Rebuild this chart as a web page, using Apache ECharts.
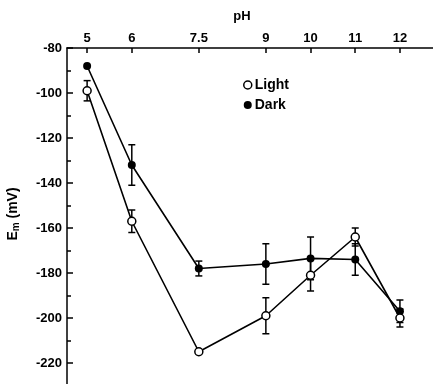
<!DOCTYPE html>
<html>
<head>
<meta charset="utf-8">
<script src="https://cdn.jsdelivr.net/npm/echarts@6/dist/echarts.min.js"></script>
<style>
  html, body { margin: 0; padding: 0; background: #fff; }
  #chart { width: 433px; height: 384px; }
</style>
</head>
<body>
<div id="chart"></div>
<script>
// pH values of the measurements and the tick labels on the top axis
const phValues = [5, 6, 7.5, 9, 10, 11, 12];
const phTicks = [5, 6, 7.5, 9, 10, 11, 12];

// Midpoint potential (mV) and its error half-width, light and dark conditions
const lightEm = [-99, -157, -215, -199, -181, -164, -200];
const lightErr = [4.5, 5, 0, 8, 7, 4, 4];
const darkEm = [-88, -132, -178, -176, -173.5, -174, -197];
const darkErr = [0, 9, 3.3, 9, 9.5, 7, 5];

// Labelled y ticks
const emTicks = [-80, -100, -120, -140, -160, -180, -200, -220];

const FONT = '"Liberation Sans", Arial, sans-serif';

const toPoints = (ys) => phValues.map((x, i) => [x, ys[i]]);
const toBars = (ys, errs) => phValues
  .map((x, i) => [x, ys[i] - errs[i], ys[i] + errs[i]])
  .filter((d, i) => errs[i] > 0);

function renderErrorBar(params, api) {
  const x = api.value(0);
  const lo = api.coord([x, api.value(1)]);
  const hi = api.coord([x, api.value(2)]);
  const cap = 3.5;
  const style = { stroke: '#000', lineWidth: 1.5 };
  return {
    type: 'group',
    children: [
      { type: 'line', shape: { x1: hi[0], y1: hi[1], x2: lo[0], y2: lo[1] }, style },
      { type: 'line', shape: { x1: hi[0] - cap, y1: hi[1], x2: hi[0] + cap, y2: hi[1] }, style },
      { type: 'line', shape: { x1: lo[0] - cap, y1: lo[1], x2: lo[0] + cap, y2: lo[1] }, style }
    ]
  };
}

const chart = echarts.init(document.getElementById('chart'), null, { renderer: 'canvas' });

chart.setOption({
  animation: false,
  backgroundColor: '#fff',
  textStyle: { fontFamily: FONT },
  grid: { left: 67, top: 48, width: 366, height: 360, containLabel: false, outerBoundsMode: 'none' },
  legend: {
    orient: 'vertical',
    left: 238,
    top: 73,
    itemGap: 6,
    itemWidth: 8,
    itemHeight: 8,
    textStyle: { fontFamily: FONT, fontSize: 14, fontWeight: 'bold', color: '#000', padding: [0, 0, 0, -2] },
    data: [
      { name: 'Light', icon: 'circle', itemStyle: { color: '#fff', borderColor: '#000', borderWidth: 1.5 } },
      { name: 'Dark', icon: 'circle', itemStyle: { color: '#000', borderColor: '#000', borderWidth: 0 } }
    ]
  },
  xAxis: {
    type: 'value',
    position: 'top',
    min: 4.55,
    max: 12.74,
    name: 'pH',
    nameLocation: 'middle',
    nameGap: 25,
    nameTextStyle: { fontFamily: FONT, fontSize: 13, fontWeight: 'bold', color: '#000', padding: [0, 16, 0, 0] },
    axisLine: { show: true, lineStyle: { color: '#000', width: 1.5 } },
    axisTick: { show: true, inside: true, length: 5, customValues: phTicks, lineStyle: { color: '#000', width: 1.5 } },
    axisLabel: {
      customValues: phTicks,
      margin: 3,
      fontFamily: FONT, fontSize: 13, fontWeight: 'bold', color: '#000',
      formatter: (v) => String(v)
    },
    splitLine: { show: false }
  },
  yAxis: {
    type: 'value',
    min: -240,
    max: -80,
    interval: 20,
    name: '{e|E}{s|m}{e| (mV)}',
    nameLocation: 'middle',
    nameGap: 46,
    nameTextStyle: {
      padding: [0, 0, 0, 28],
      rich: {
        e: { fontFamily: FONT, fontSize: 14, fontWeight: 'bold', color: '#000' },
        s: { fontFamily: FONT, fontSize: 10, fontWeight: 'bold', color: '#000', padding: [6, 0, 0, 0] }
      }
    },
    axisLine: { show: true, lineStyle: { color: '#000', width: 1.5 } },
    axisTick: { show: true, inside: true, length: 6, customValues: emTicks, lineStyle: { color: '#000', width: 1.5 } },
    minorTick: { show: true, splitNumber: 2, length: 4, lineStyle: { color: '#000', width: 1.5 } },
    axisLabel: {
      customValues: emTicks,
      margin: 5,
      fontFamily: FONT, fontSize: 13, fontWeight: 'bold', color: '#000'
    },
    splitLine: { show: false },
    minorSplitLine: { show: false }
  },
  series: [
    {
      name: 'LightErr',
      type: 'custom',
      renderItem: renderErrorBar,
      data: toBars(lightEm, lightErr),
      z: 1,
      silent: true
    },
    {
      name: 'DarkErr',
      type: 'custom',
      renderItem: renderErrorBar,
      data: toBars(darkEm, darkErr),
      z: 1,
      silent: true
    },
    {
      name: 'Dark',
      type: 'line',
      data: toPoints(darkEm),
      symbol: 'circle',
      symbolSize: 8,
      itemStyle: { color: '#000' },
      lineStyle: { color: '#000', width: 1.6 },
      z: 3
    },
    {
      name: 'Light',
      type: 'line',
      data: toPoints(lightEm),
      symbol: 'circle',
      symbolSize: 8,
      itemStyle: { color: '#fff', borderColor: '#000', borderWidth: 1.5 },
      lineStyle: { color: '#000', width: 1.6 },
      z: 4
    }
  ]
});
</script>
</body>
</html>
